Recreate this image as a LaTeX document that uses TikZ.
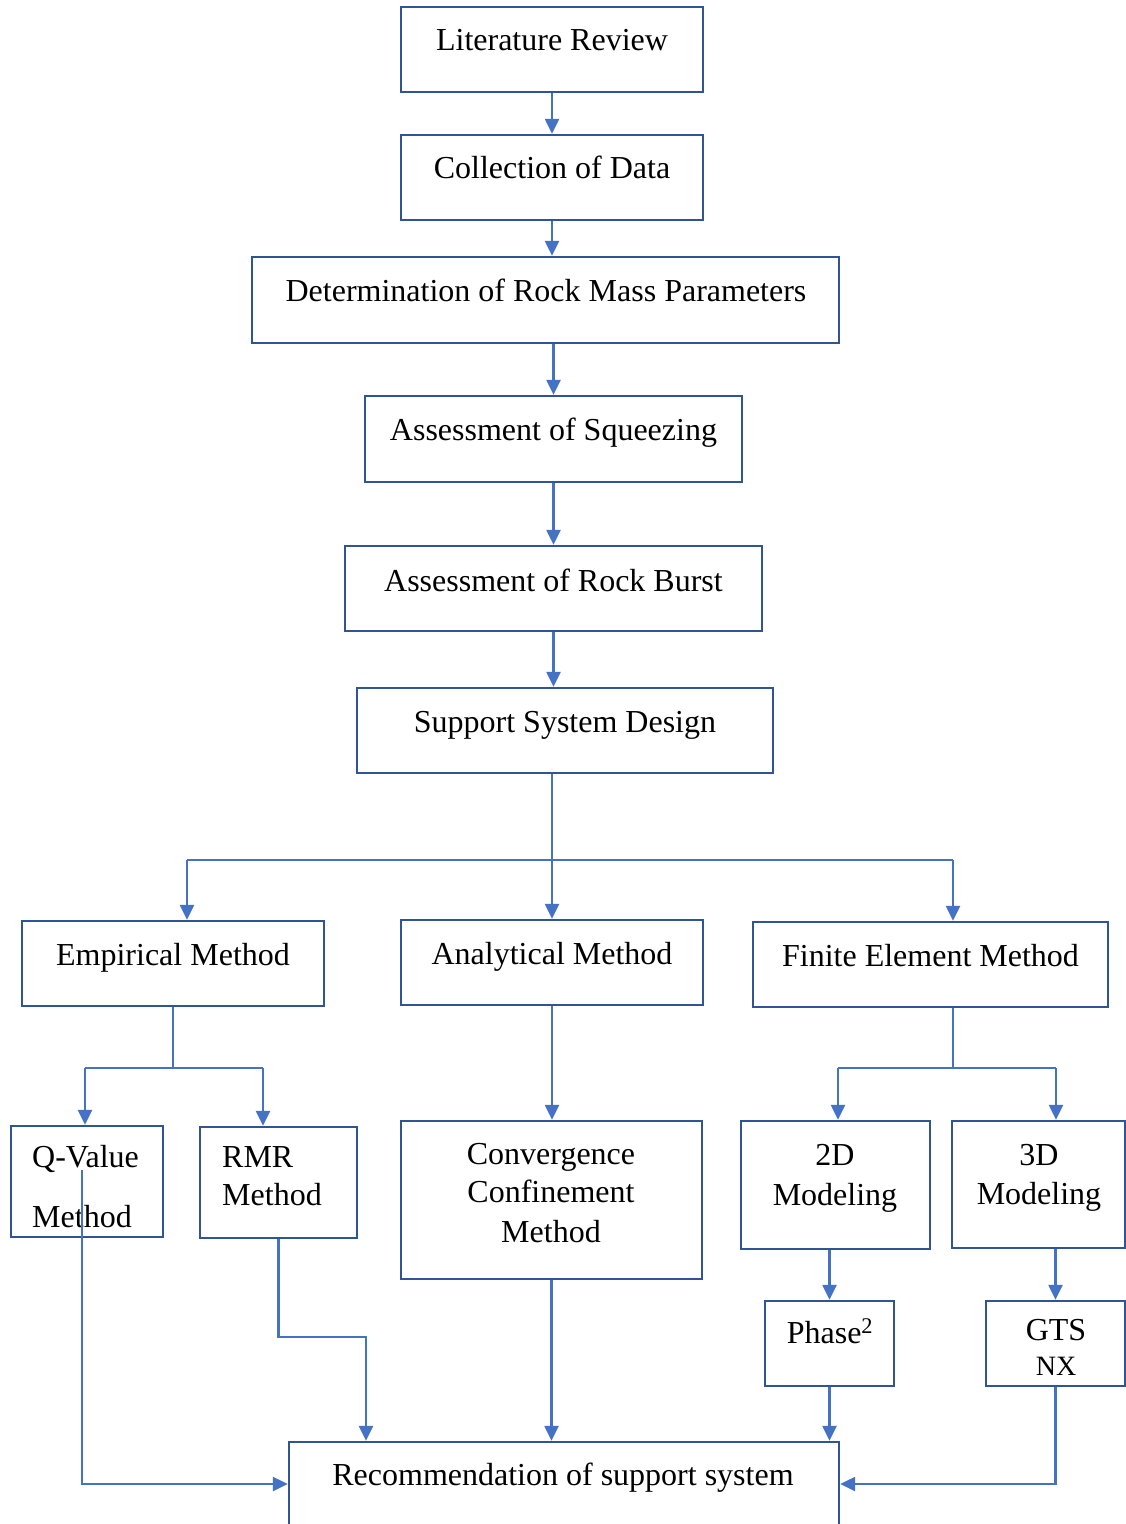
\documentclass[tikz,border=0pt]{standalone}
\usepackage{fontspec}
\setmainfont{Liberation Serif}
\usetikzlibrary{arrows.meta,calc}
\definecolor{boxc}{HTML}{2F5597}
\definecolor{linec}{HTML}{4472C4}
\tikzset{
  box/.style={draw=boxc, line width=2.4pt, rectangle, inner sep=0pt, fill=none},
  lbl/.style={font=\fontsize{32}{38}\selectfont, inner sep=0pt, text=black},
  arr/.style={draw=linec, line width=2.4pt, -{Triangle[length=15pt,width=14pt]}},
  ln/.style={draw=linec, line width=2.2pt},
  thinln/.style={draw=linec, line width=1.2pt},
}
\begin{document}
\begin{tikzpicture}[x=1pt,y=-1pt]
\useasboundingbox (0,0) rectangle (1126,1524);
\clip (0,0) rectangle (1126,1524);
\fill[white] (0,0) rectangle (1126,1524);
% boxes
\node[box, minimum width=302pt, minimum height=85pt] (lr) at (552,49.5) {};
\node[box, minimum width=302pt, minimum height=85pt] (cd) at (552,177.5) {};
\node[box, minimum width=587pt, minimum height=86pt] (det) at (545.5,300) {};
\node[box, minimum width=377pt, minimum height=86pt] (sq) at (553.5,439) {};
\node[box, minimum width=417pt, minimum height=85pt] (rb) at (553.5,588.5) {};
\node[box, minimum width=416pt, minimum height=85pt] (ssd) at (565,730.5) {};
\node[box, minimum width=302pt, minimum height=85pt] (emp) at (173,963.5) {};
\node[box, minimum width=302pt, minimum height=85pt] (ana) at (552,962.5) {};
\node[box, minimum width=355pt, minimum height=85pt] (fem) at (930.5,964.5) {};
\node[box, minimum width=152pt, minimum height=111pt] (qv) at (87,1181.5) {};
\node[box, minimum width=157pt, minimum height=111pt] (rmr) at (278.5,1182.5) {};
\node[box, minimum width=301pt, minimum height=158pt] (conv) at (551.5,1200) {};
\node[box, minimum width=189pt, minimum height=128pt] (d2) at (835.5,1185) {};
\node[box, minimum width=173pt, minimum height=127pt] (d3) at (1038.5,1184.5) {};
\node[box, minimum width=129pt, minimum height=85pt] (ph) at (829.5,1343.5) {};
\node[box, minimum width=139pt, minimum height=85pt] (gts) at (1055.5,1343.5) {};
\node[box, minimum width=550pt, minimum height=84pt] (rec) at (564,1484) {};
% labels
\node[lbl, anchor=base] (t-lr) at (552,50) {Literature Review};
\node[lbl, anchor=base] (t-cd) at (552,178) {Collection of Data};
\node[lbl, anchor=base] (t-det) at (546,301) {Determination of Rock Mass Parameters};
\node[lbl, anchor=base] (t-sq) at (553.5,440) {Assessment of Squeezing};
\node[lbl, anchor=base] (t-rb) at (553.5,591) {Assessment of Rock Burst};
\node[lbl, anchor=base] (t-ssd) at (565,732) {Support System Design};
\node[lbl, anchor=base] (t-emp) at (173,965) {Empirical Method};
\node[lbl, anchor=base] (t-ana) at (552,964) {Analytical Method};
\node[lbl, anchor=base] (t-fem) at (930.5,966) {Finite Element Method};
\node[lbl, anchor=base west] (t-qv1) at (32,1167) {Q-Value};
\node[lbl, anchor=base west] (t-qv2) at (32,1227) {Method};
\node[lbl, anchor=base west] (t-rmr1) at (222,1167) {RMR};
\node[lbl, anchor=base west] (t-rmr2) at (222,1205) {Method};
\node[lbl, anchor=base] (t-cv1) at (551,1164) {Convergence};
\node[lbl, anchor=base] (t-cv2) at (551,1202) {Confinement};
\node[lbl, anchor=base] (t-cv3) at (551,1242) {Method};
\node[lbl, anchor=base] (t-d21) at (835,1165) {2D};
\node[lbl, anchor=base] (t-d22) at (835,1205) {Modeling};
\node[lbl, anchor=base] (t-d31) at (1039,1165) {3D};
\node[lbl, anchor=base] (t-d32) at (1039,1204) {Modeling};
\node[lbl, anchor=base] (t-ph) at (830,1343) {Phase\textsuperscript{2}};
\node[lbl, anchor=base] (t-gts1) at (1056,1340) {GTS};
\node[lbl, anchor=base, font=\fontsize{28}{32}\selectfont] (t-gts2) at (1056,1375) {NX};
\node[lbl, anchor=base] (t-rec) at (563,1485) {Recommendation of support system};
% coordinates
\coordinate (j1) at (552,860);
\coordinate (bl) at (187,860);
\coordinate (br) at (953,860);
\coordinate (e1) at (173,1068);
\coordinate (el) at (85,1068);
\coordinate (er) at (263,1068);
\coordinate (f1) at (953,1068);
\coordinate (fl) at (838,1068);
\coordinate (fr) at (1056,1068);
\coordinate (qs) at (82,1170);
\coordinate (rk) at (366,1337);
% connectors
\draw[arr] (lr.south) -- (cd.north);
\draw[arr] (cd.south) -- (cd.south |- det.north);
\draw[arr] (sq.north |- det.south) -- (sq.north);
\draw[arr] (sq.south) -- (rb.north);
\draw[arr] (rb.south) -- (rb.south |- ssd.north);
\draw[thinln] (j1 |- ssd.south) -- (j1);
\draw[thinln] (bl) -- (br);
\draw[arr] (bl) -- (bl |- emp.north);
\draw[arr] (j1) -- (ana.north);
\draw[arr] (br) -- (br |- fem.north);
\draw[thinln] (emp.south) -- (e1);
\draw[ln] (el) -- (er);
\draw[arr] (el) -- (el |- qv.north);
\draw[arr] (er) -- (er |- rmr.north);
\draw[arr] (ana.south) -- (ana.south |- conv.north);
\draw[thinln] (f1 |- fem.south) -- (f1);
\draw[ln] (fl) -- (fr);
\draw[arr] (fl) -- (fl |- d2.north);
\draw[arr] (fr) -- (fr |- d3.north);
\draw[arr] (ph.north |- d2.south) -- (ph.north);
\draw[arr] (gts.north |- d3.south) -- (gts.north);
\draw[arr] (ph.south) -- (ph.south |- rec.north);
\draw[arr] (gts.south) |- (rec.east);
\draw[arr] (qs) |- (rec.west);
\draw[arr] (rmr.south) |- (rk) -- (rk |- rec.north);
\draw[arr] (conv.south) -- (conv.south |- rec.north);
\end{tikzpicture}
\end{document}
